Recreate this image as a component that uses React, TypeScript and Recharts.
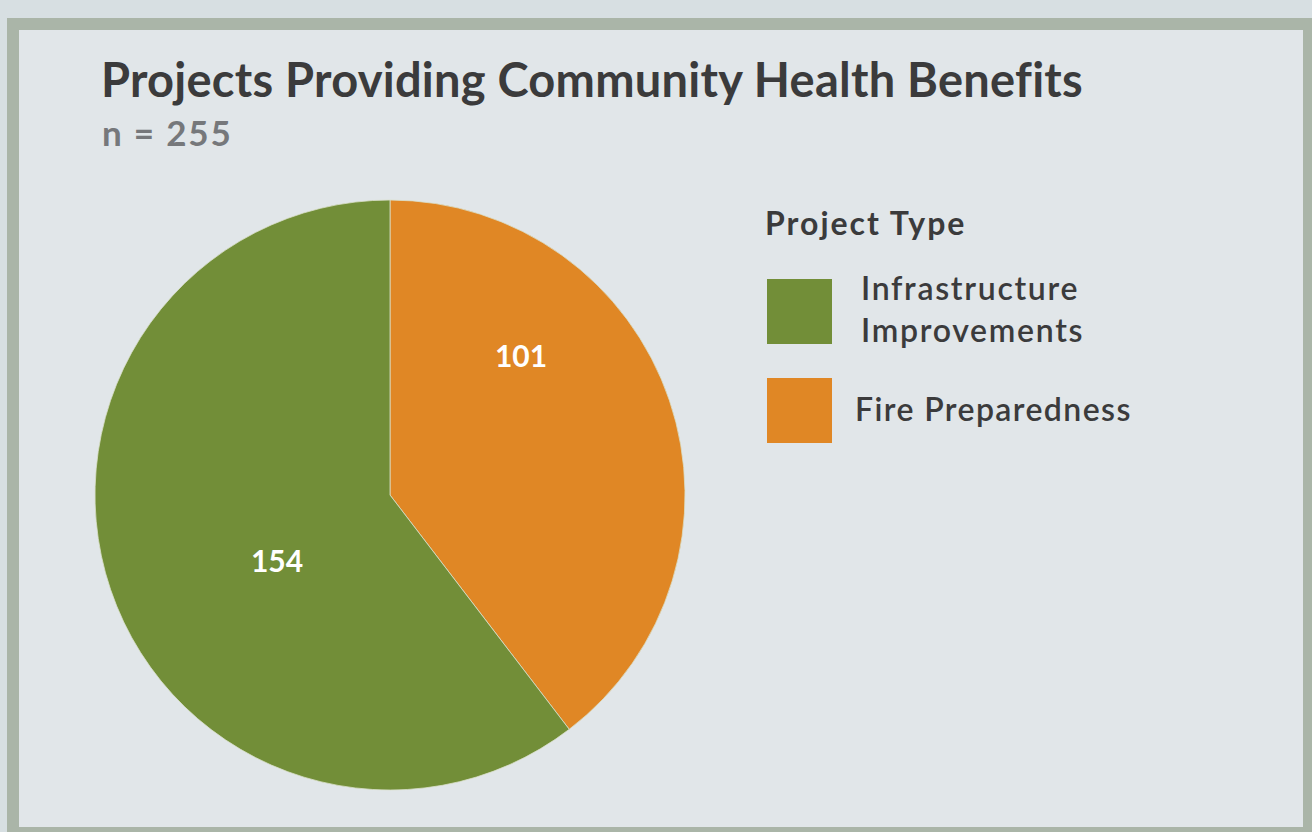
import { Legend, Pie, PieChart } from 'recharts';

const TITLE = 'Projects Providing Community Health Benefits';
const SUBTITLE = 'n = 255';
const LEGEND_TITLE = 'Project Type';

// pie order (clockwise from 12 o'clock)
const SLICE_NAMES = ['Fire Preparedness', 'Infrastructure Improvements'];
const SLICE_VALUES = [101, 154];
const SLICE_COLORS = ['#e08725', '#728e38'];

// legend order
const LEGEND_NAMES = ['Infrastructure Improvements', 'Fire Preparedness'];
const LEGEND_LINES: Record<string, string[]> = {
  'Infrastructure Improvements': ['Infrastructure', 'Improvements'],
  'Fire Preparedness': ['Fire Preparedness'],
};

// label placement as a fraction of the radius (Excel "best fit" style)
const LABEL_OFFSET: Record<string, [number, number]> = {
  'Fire Preparedness': [0.444, -0.475],
  'Infrastructure Improvements': [-0.383, 0.22],
};

const FONT = 'Lato, "Open Sans", sans-serif';
const TEXT_DARK = '#3b3b3c';

const data = SLICE_NAMES.map((name, i) => ({
  name,
  value: SLICE_VALUES[i],
  fill: SLICE_COLORS[i],
}));

function SliceLabel(props: any) {
  const { cx, cy, outerRadius, name, value } = props;
  const off = LABEL_OFFSET[name] ?? [0, 0];
  return (
    <text
      x={cx + outerRadius * off[0]}
      y={cy + outerRadius * off[1]}
      fill="#ffffff"
      textAnchor="middle"
      dominantBaseline="central"
      fontFamily={FONT}
      fontWeight={700}
      fontSize={30}
    >
      {value}
    </text>
  );
}

function LegendBox() {
  return (
    <svg width={540} height={300} style={{ display: 'block' }}>
      <text
        x={15}
        y={45}
        fontFamily={FONT}
        fontWeight={700}
        fontSize={32}
        letterSpacing={2}
        fill={TEXT_DARK}
      >
        {LEGEND_TITLE}
      </text>
      {LEGEND_NAMES.map((name, i) => {
        const color = SLICE_COLORS[SLICE_NAMES.indexOf(name)];
        const lines = LEGEND_LINES[name];
        const top = 89 + i * 99;
        const multi = lines.length > 1;
        return (
          <g key={name}>
            <rect x={17} y={top} width={65} height={65} fill={color} />
            {lines.map((ln, j) => (
              <text
                key={ln}
                x={multi ? 111 : 105}
                y={multi ? top + 21 + j * 42 : top + 43}
                fontFamily={FONT}
                fontWeight={600}
                fontSize={32}
                letterSpacing={multi ? 1.7 : 1.4}
                fill={TEXT_DARK}
              >
                {ln}
              </text>
            ))}
          </g>
        );
      })}
    </svg>
  );
}

export default function App() {
  return (
    <div
      style={{
        position: 'absolute',
        left: 0,
        top: 0,
        width: 1312,
        height: 832,
        background: '#d7dfe2',
        overflow: 'hidden',
      }}
    >
      <svg width={1312} height={832} style={{ position: 'absolute', left: 0, top: 0 }}>
        <rect x={7} y={18} width={1305} height={814} fill="#aab5a8" />
        <rect x={19} y={30} width={1284} height={797} fill="#e1e6e9" />
        <text
          x={101}
          y={97}
          fontFamily={FONT}
          fontWeight={700}
          fontSize={47}
          letterSpacing={0.25}
          fill={TEXT_DARK}
        >
          {TITLE}
        </text>
        <text
          x={102}
          y={146}
          fontFamily={FONT}
          fontWeight={700}
          fontSize={35}
          letterSpacing={1.8}
          fill="#76787b"
        >
          {SUBTITLE}
        </text>
      </svg>
      <div style={{ position: 'absolute', left: 0, top: 0 }}>
        <PieChart width={1312} height={832} margin={{ top: 0, right: 0, bottom: 0, left: 0 }}>
          <Pie
            data={data}
            dataKey="value"
            nameKey="name"
            cx={390}
            cy={495}
            outerRadius={295}
            startAngle={90}
            endAngle={-270}
            stroke="#d9dfc9"
            strokeWidth={0.8}
            label={SliceLabel}
            labelLine={false}
            isAnimationActive={false}
          />
          <Legend
            content={() => <LegendBox />}
            wrapperStyle={{ position: 'absolute', left: 750, top: 190, width: 540 }}
          />
        </PieChart>
      </div>
    </div>
  );
}
